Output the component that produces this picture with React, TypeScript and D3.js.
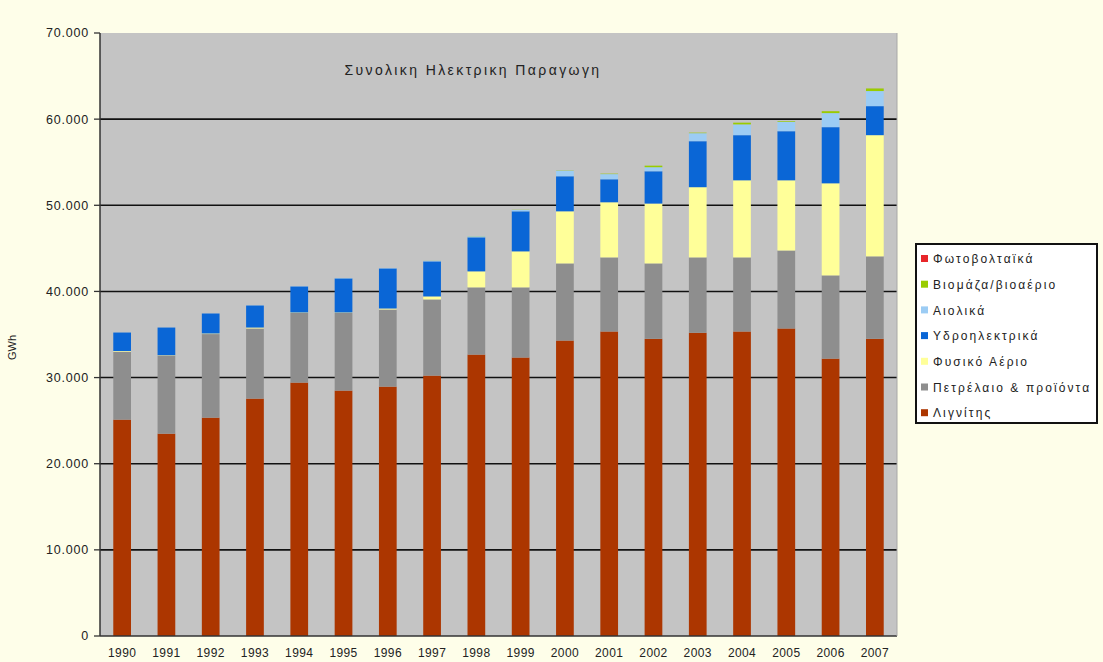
import React from "react";
import * as d3 from "d3";

const years = ["1990","1991","1992","1993","1994","1995","1996","1997","1998","1999","2000","2001","2002","2003","2004","2005","2006","2007"];
const lignite = [25120, 23490, 25350, 27560, 29420, 28490, 28950, 30230, 32670, 32330, 34300, 35350, 34500, 35200, 35350, 35700, 32200, 34500];
const oil = [7880, 9070, 9700, 8140, 8080, 9010, 8950, 8840, 7800, 8140, 8950, 8600, 8750, 8750, 8600, 9050, 9660, 9570];
const gas = [80, 40, 70, 110, 60, 60, 120, 350, 1860, 4180, 6050, 6400, 6950, 8150, 8950, 8150, 10690, 14070];
const hydro = [2150, 3210, 2320, 2560, 3020, 3950, 4650, 4070, 3950, 4650, 4070, 2670, 3750, 5340, 5240, 5700, 6520, 3370];
const wind = [10, 10, 10, 20, 30, 40, 40, 70, 110, 160, 650, 600, 470, 930, 1250, 1100, 1630, 1750];
const biomass = [0, 0, 0, 0, 0, 0, 0, 10, 20, 20, 30, 50, 180, 60, 200, 80, 220, 300];
const pv = [0, 0, 0, 0, 0, 0, 0, 0, 0, 0, 1, 1, 1, 1, 1, 1, 2, 3];

const seriesNames = ["Λιγνίτης", "Πετρέλαιο & προϊόντα", "Φυσικό Αέριο", "Υδροηλεκτρικά", "Αιολικά", "Βιομάζα/βιοαέριο", "Φωτοβολταϊκά"];
const seriesKeys = ["lignite", "oil", "gas", "hydro", "wind", "biomass", "pv"];
const seriesColors = ["#AC3600", "#8E8E8E", "#FFFF99", "#0A66D6", "#9CCCF4", "#99CC00", "#E8262A"];
const yTicks = [0, 10000, 20000, 30000, 40000, 50000, 60000, 70000];
const title = "Συνολικη Ηλεκτρικη Παραγωγη";
const yLabel = "GWh";

const seriesData = [lignite, oil, gas, hydro, wind, biomass, pv];
const rows = years.map((y, i) => {
  const r: any = { year: y };
  seriesKeys.forEach((k, j) => (r[k] = seriesData[j][i]));
  return r;
});

export default function App() {
  const W = 1103, H = 662;
  const left = 100, right = 897, top = 33, bottom = 636;
  const x = d3.scaleBand().domain(years).range([left, right]).paddingInner(0.6).paddingOuter(0.3);
  const y = d3.scaleLinear().domain([0, 70000]).range([bottom, top]);
  const stacked = d3.stack<any>().keys(seriesKeys)(rows);
  const fmt = (v: number) => (v === 0 ? "0" : d3.format(",")(v).replace(/,/g, "."));
  const font = "Arial, 'Liberation Sans', sans-serif";

  const legendTop = 244, legendX = 916, legendStep = 25.7;
  const legendOrder = [6, 5, 4, 3, 2, 1, 0];

  return (
    <svg width={W} height={H} style={{ position: "absolute", left: 0, top: 0, display: "block" }} fontFamily={font}>
      <rect x={0} y={0} width={W} height={H} fill="#FEFEE9" />
      <rect x={left} y={top} width={right - left} height={bottom - top} fill="#C4C4C4" />
      {yTicks.filter(t => t > 0 && t < 70000).map(t => (
        <line key={t} x1={left} x2={right} y1={y(t)} y2={y(t)} stroke="#111" strokeWidth={1.6} />
      ))}
      {stacked.map((s, si) => (
        <g key={seriesKeys[si]} fill={seriesColors[si]}>
          {s.map((d, i) => (
            <rect key={i} x={x(years[i])} width={x.bandwidth()} y={y(d[1])} height={Math.max(0, y(d[0]) - y(d[1]))} />
          ))}
        </g>
      ))}
      <line x1={left} x2={left} y1={top} y2={bottom} stroke="#333" strokeWidth={1.5} />
      <line x1={left} x2={right} y1={bottom} y2={bottom} stroke="#333" strokeWidth={1.5} />
      <line x1={right} x2={right} y1={top} y2={bottom} stroke="#A8A8A8" strokeWidth={1} />
      {yTicks.map(t => (
        <g key={t}>
          <line x1={left - 6} x2={left} y1={y(t)} y2={y(t)} stroke="#333" strokeWidth={1.3} />
          <text x={left - 11} y={y(t)} dy="0.35em" textAnchor="end" fontSize={12.5} letterSpacing={0.8} fill="#222">{fmt(t)}</text>
        </g>
      ))}
      {years.map(yr => (
        <text key={yr} x={(x(yr) as number) + x.bandwidth() / 2} y={657} textAnchor="middle" fontSize={12} letterSpacing={0.4} fill="#222">{yr}</text>
      ))}
      <text transform={`translate(16,${(top + bottom) / 2 + 13}) rotate(-90)`} textAnchor="middle" fontSize={11} fill="#222">{yLabel}</text>
      <text x={473} y={75} textAnchor="middle" fontSize={14} letterSpacing={2.4} fill="#222">{title}</text>
      <rect x={legendX} y={legendTop} width={181} height={179} fill="#FFFFFF" stroke="#111" strokeWidth={2} />
      {legendOrder.map((si, k) => {
        const cy = legendTop + 15 + k * legendStep;
        return (
          <g key={si}>
            <rect x={legendX + 5} y={cy - 4} width={7} height={7} fill={seriesColors[si]} />
            <text x={legendX + 17} y={cy} dy="0.35em" fontSize={12} letterSpacing={2.1} fill="#222">{seriesNames[si]}</text>
          </g>
        );
      })}
    </svg>
  );
}
